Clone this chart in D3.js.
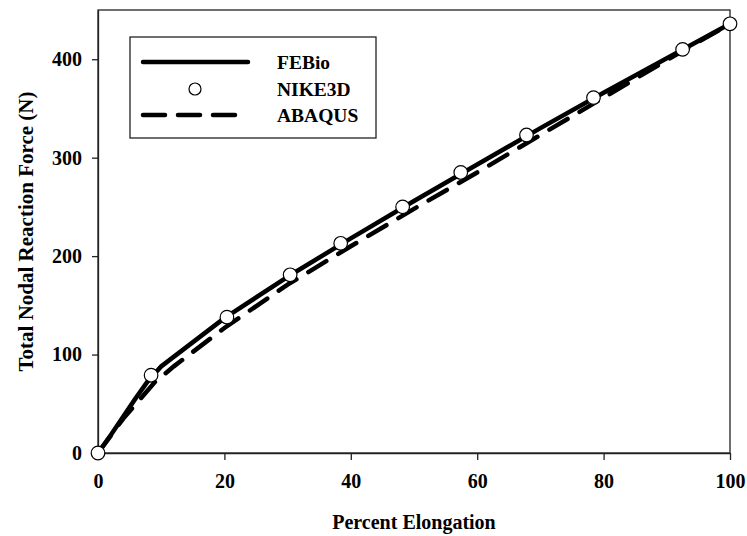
<!DOCTYPE html>
<html>
<head>
<meta charset="utf-8">
<script src="https://cdn.jsdelivr.net/npm/d3@7"></script>
<style>
  body { margin: 0; background: #fff; }
  text { font-family: "Liberation Serif", "Times New Roman", serif; font-weight: bold; }
</style>
</head>
<body>
<script>

// data

const febioX = [0, 2, 4, 6, 8, 10, 20, 30, 40, 50, 60, 70, 80, 90, 100];
const febioY = [0, 18, 37, 56, 74, 88, 137, 179, 218, 256, 293, 330, 366, 401, 436];

const nikeX = [0, 8.4, 20.4, 30.4, 38.4, 48.2, 57.4, 67.8, 78.4, 92.5, 100];
const nikeY = [0, 79, 138, 181, 213, 250, 285, 323, 361, 410, 436];

const abaqusX = [0, 4, 9, 12, 20, 30, 40, 50, 60, 70, 80, 90, 100];
const abaqusY = [0, 35, 72, 88, 127, 171, 210, 248, 285, 323, 361, 399, 436];

const xTicks = [0, 20, 40, 60, 80, 100];
const yTicks = [0, 100, 200, 300, 400];

const legendNames = ["FEBio", "NIKE3D", "ABAQUS"];

// sizes

const w = 747;
const h = 536;
const margin = {top: 10, right: 17, bottom: 83, left: 98};

const xScale = d3.scaleLinear()
    .domain([0, 100])
    .range([margin.left, w - margin.right]);

const yScale = d3.scaleLinear()
    .domain([0, 450])
    .range([h - margin.bottom, margin.top]);

const svg = d3.select("body")
  .append("svg")
    .attr("width", w)
    .attr("height", h);

// frame

svg.append("rect")
    .attr("x", xScale(0))
    .attr("y", yScale(450))
    .attr("width", xScale(100) - xScale(0))
    .attr("height", yScale(0) - yScale(450))
    .attr("fill", "none")
    .attr("stroke", "#222")
    .attr("stroke-width", 1.3);

// axes

const xAxis = d3.axisBottom(xScale)
    .tickValues(xTicks)
    .tickSize(7)
    .tickPadding(14)
    .tickSizeOuter(0);

const yAxis = d3.axisLeft(yScale)
    .tickValues(yTicks)
    .tickSize(6)
    .tickPadding(10)
    .tickSizeOuter(0);

const gx = svg.append("g")
    .attr("transform", `translate(0, ${yScale(0)})`)
    .call(xAxis);

const gy = svg.append("g")
    .attr("transform", `translate(${xScale(0)}, 0)`)
    .call(yAxis);

[gx, gy].forEach(g => {
  g.select(".domain").attr("stroke", "#222").attr("stroke-width", 1.3);
  g.selectAll(".tick line").attr("stroke", "#222").attr("stroke-width", 1.3);
  g.selectAll(".tick text")
      .attr("fill", "#000")
      .style("font-size", "20px")
      .style("font-family", "'Liberation Serif', serif")
      .style("font-weight", "bold");
});

// axis titles

svg.append("text")
    .attr("x", (xScale(0) + xScale(100)) / 2)
    .attr("y", 529)
    .attr("text-anchor", "middle")
    .style("font-size", "20px")
    .text("Percent Elongation");

svg.append("text")
    .attr("transform", `translate(33, ${(yScale(0) + yScale(450)) / 2}) rotate(-90)`)
    .attr("text-anchor", "middle")
    .style("font-size", "21px")
    .text("Total Nodal Reaction Force (N)");

// lines

const line = d3.line()
    .x(d => xScale(d[0]))
    .y(d => yScale(d[1]));

svg.append("path")
    .datum(abaqusX.map((x, i) => [x, abaqusY[i]]))
    .attr("d", line)
    .attr("fill", "none")
    .attr("stroke", "#000")
    .attr("stroke-width", 4.5)
    .attr("stroke-linecap", "round")
    .attr("stroke-dasharray", "21,14");

svg.append("path")
    .datum(febioX.map((x, i) => [x, febioY[i]]))
    .attr("d", line)
    .attr("fill", "none")
    .attr("stroke", "#000")
    .attr("stroke-width", 4.5)
    .attr("stroke-linejoin", "round");

svg.append("g")
  .selectAll("circle")
    .data(nikeX.map((x, i) => [x, nikeY[i]]))
  .enter().append("circle")
    .attr("cx", d => xScale(d[0]))
    .attr("cy", d => yScale(d[1]))
    .attr("r", 6.8)
    .attr("fill", "#fff")
    .attr("stroke", "#000")
    .attr("stroke-width", 1.2);

// legend

const legend = svg.append("g");

legend.append("rect")
    .attr("x", 130)
    .attr("y", 37)
    .attr("width", 246)
    .attr("height", 101)
    .attr("fill", "#fff")
    .attr("stroke", "#222")
    .attr("stroke-width", 1.3);

const rowY = [62, 89, 115];

legend.append("line")
    .attr("x1", 143).attr("x2", 248)
    .attr("y1", rowY[0]).attr("y2", rowY[0])
    .attr("stroke", "#000")
    .attr("stroke-width", 4.5)
    .attr("stroke-linecap", "round");

legend.append("circle")
    .attr("cx", 195)
    .attr("cy", rowY[1])
    .attr("r", 6)
    .attr("fill", "#fff")
    .attr("stroke", "#000")
    .attr("stroke-width", 1.2);

legend.append("line")
    .attr("x1", 143).attr("x2", 240)
    .attr("y1", rowY[2]).attr("y2", rowY[2])
    .attr("stroke", "#000")
    .attr("stroke-width", 4.5)
    .attr("stroke-linecap", "round")
    .attr("stroke-dasharray", "22,13");

legend.selectAll("text")
    .data(legendNames)
  .enter().append("text")
    .attr("x", 277)
    .attr("y", (d, i) => rowY[i] + 7)
    .style("font-size", "19.5px")
    .text(d => d);

</script>
</body>
</html>
